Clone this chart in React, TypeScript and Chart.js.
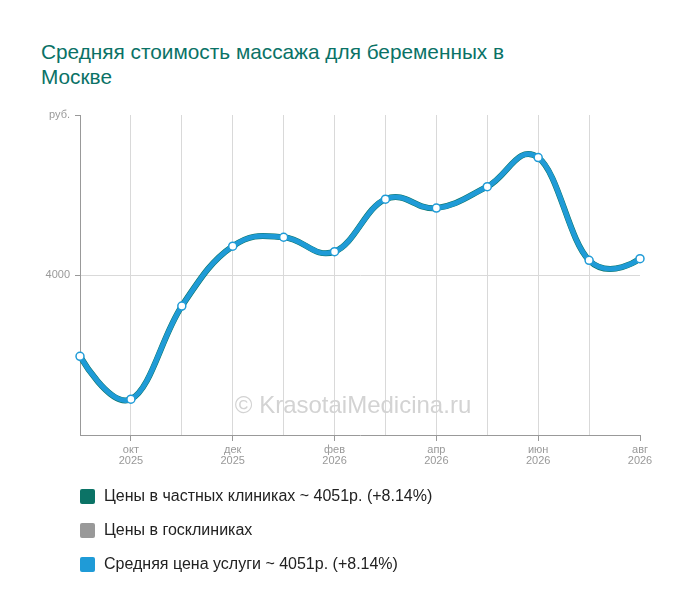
import React, { useEffect, useRef } from "react";
import { Chart, registerables } from "chart.js";

Chart.register(...registerables);

const titleLines = ["Средняя стоимость массажа для беременных в", "Москве"];
const months = ["сен", "окт", "ноя", "дек", "янв", "фев", "мар", "апр", "май", "июн", "июл", "авг"];
const years = ["2025", "2025", "2025", "2025", "2026", "2026", "2026", "2026", "2026", "2026", "2026", "2026"];
const privatePrices = [3746, 3612, 3903, 4090, 4118, 4073, 4237, 4209, 4276, 4367, 4046, 4051];
const publicPrices: (number | null)[] = [];
const averagePrices = [3746, 3612, 3903, 4090, 4118, 4073, 4237, 4209, 4276, 4367, 4046, 4051];
const seriesNames = [
  "Цены в частных клиниках ~ 4051р. (+8.14%)",
  "Цены в госклиниках",
  "Средняя цена услуги ~ 4051р. (+8.14%)",
];
const seriesColors = ["#0b7366", "#999999", "#1f9bd7"];
const yMin = 3500;
const yMax = 4500;
const yStep = 500;
const yUnit = "руб.";
const watermark = "© KrasotaiMedicina.ru";

const FONT = "'Liberation Sans', Arial, sans-serif";
const SMOOTH = 1.5;

export default function App() {
  const ref = useRef<HTMLCanvasElement | null>(null);

  useEffect(() => {
    if (!ref.current) return;
    const wm = {
      id: "watermark",
      beforeDatasetsDraw(chart: any) {
        const c = chart.ctx;
        const a = chart.chartArea;
        c.save();
        c.font = `24px ${FONT}`;
        c.fillStyle = "#d3d3d3";
        c.textAlign = "center";
        c.textBaseline = "alphabetic";
        c.fillText(watermark, a.left + (a.right - a.left) / 2 - 7, a.bottom - 22);
        c.restore();
      },
    };
    // spline control points (smoothing like classic chart spline)
    const spline = {
      id: "spline",
      beforeDatasetsDraw(chart: any) {
        chart.data.datasets.forEach((_d: any, di: number) => {
          const meta = chart.getDatasetMeta(di);
          const line = meta.dataset;
          if (!line || !line.points) return;
          line.updateControlPoints(chart.chartArea, "x");
          const pts = line.points;
          for (let i = 0; i < pts.length; i++) {
            const p = pts[i];
            const prev = pts[i - 1];
            const next = pts[i + 1];
            if (prev && next) {
              let lcx = (SMOOTH * p.x + prev.x) / (SMOOTH + 1);
              let lcy = (SMOOTH * p.y + prev.y) / (SMOOTH + 1);
              let rcx = (SMOOTH * p.x + next.x) / (SMOOTH + 1);
              let rcy = (SMOOTH * p.y + next.y) / (SMOOTH + 1);
              if (rcx !== lcx) {
                const corr = ((rcy - lcy) * (rcx - p.x)) / (rcx - lcx) + p.y - rcy;
                lcy += corr;
                rcy += corr;
              }
              p.cp1x = lcx;
              p.cp1y = lcy;
              p.cp2x = rcx;
              p.cp2y = rcy;
            } else {
              p.cp1x = p.x;
              p.cp1y = p.y;
              p.cp2x = p.x;
              p.cp2y = p.y;
            }
          }
        });
      },
    };
    const chart = new Chart(ref.current, {
      type: "line",
      data: {
        labels: months.map((m, i) => [m, years[i]]),
        datasets: [
          {
            label: seriesNames[0],
            data: privatePrices,
            borderColor: seriesColors[0],
            backgroundColor: seriesColors[0],
            borderWidth: 6,
            pointRadius: 0,
            tension: 0.4,
            capBezierPoints: false,
            order: 3,
          },
          {
            label: seriesNames[1],
            data: publicPrices,
            borderColor: seriesColors[1],
            backgroundColor: seriesColors[1],
            borderWidth: 4,
            pointRadius: 0,
            tension: 0.4,
            capBezierPoints: false,
            order: 2,
          },
          {
            label: seriesNames[2],
            data: averagePrices,
            borderColor: seriesColors[2],
            backgroundColor: "#ffffff",
            borderWidth: 5,
            pointRadius: 4,
            pointBorderWidth: 1.5,
            pointBorderColor: seriesColors[2],
            pointBackgroundColor: "#ffffff",
            tension: 0.4,
            capBezierPoints: false,
            order: 1,
          },
        ],
      },
      options: {
        animation: false,
        responsive: false,
        maintainAspectRatio: false,
        layout: { padding: { top: 115, right: 60, left: 0, bottom: 0 } },
        plugins: {
          legend: { display: false },
          tooltip: { enabled: false },
          title: { display: false },
        },
        scales: {
          x: {
            afterFit(scale: any) {
              scale.height = 45;
            },
            border: { color: "#999999", width: 1 },
            grid: {
              color: (ctx: any) =>
                ctx.index === 0 || ctx.index === months.length - 1 ? "rgba(0,0,0,0)" : "#d9d9d9",
              tickColor: (ctx: any) => (ctx.index % 2 === 1 ? "#999999" : "rgba(0,0,0,0)"),
              tickLength: 6,
            },
            ticks: {
              autoSkip: false,
              maxRotation: 0,
              padding: 3,
              color: "#999999",
              font: { family: FONT, size: 11, lineHeight: 1.0 },
              callback: (_v: any, i: number) => (i % 2 === 1 ? [months[i], years[i]] : ""),
            },
          },
          y: {
            min: yMin,
            max: yMax,
            afterFit(scale: any) {
              scale.width = 80;
            },
            border: { color: "#999999", width: 1 },
            grid: {
              color: (ctx: any) => (ctx.tick && ctx.tick.value === 4000 ? "#d9d9d9" : "rgba(0,0,0,0)"),
              tickColor: (ctx: any) => (ctx.tick && ctx.tick.value === yMin ? "rgba(0,0,0,0)" : "#999999"),
              tickLength: 5,
            },
            ticks: {
              stepSize: yStep,
              padding: 5,
              color: "#999999",
              font: { family: FONT, size: 11 },
              callback: (v: any) => (v === yMax ? yUnit : v === yMin ? "" : String(v)),
            },
          },
        },
      },
      plugins: [wm, spline],
    } as any);
    return () => chart.destroy();
  }, []);

  return (
    <div style={{ position: "absolute", left: 0, top: 0, width: 700, height: 612, background: "#fff", fontFamily: FONT }}>
      <div
        style={{
          position: "absolute",
          left: 41,
          top: 39,
          color: "#0a7266",
          fontSize: 20.8,
          lineHeight: "25px",
          whiteSpace: "nowrap",
        }}
      >
        {titleLines.map((t, i) => (
          <div key={i}>{t}</div>
        ))}
      </div>
      <canvas ref={ref} width={700} height={480} style={{ position: "absolute", left: 0, top: 0, width: 700, height: 480 }} />
      <div style={{ position: "absolute", left: 80, top: 479 }}>
        {seriesNames.map((n, i) => (
          <div key={i} style={{ display: "flex", alignItems: "center", height: 34, fontSize: 16, color: "#222" }}>
            <span
              style={{
                display: "inline-block",
                width: 15,
                height: 15,
                borderRadius: 2,
                background: seriesColors[i],
                marginRight: 9,
              }}
            />
            {n}
          </div>
        ))}
      </div>
    </div>
  );
}
